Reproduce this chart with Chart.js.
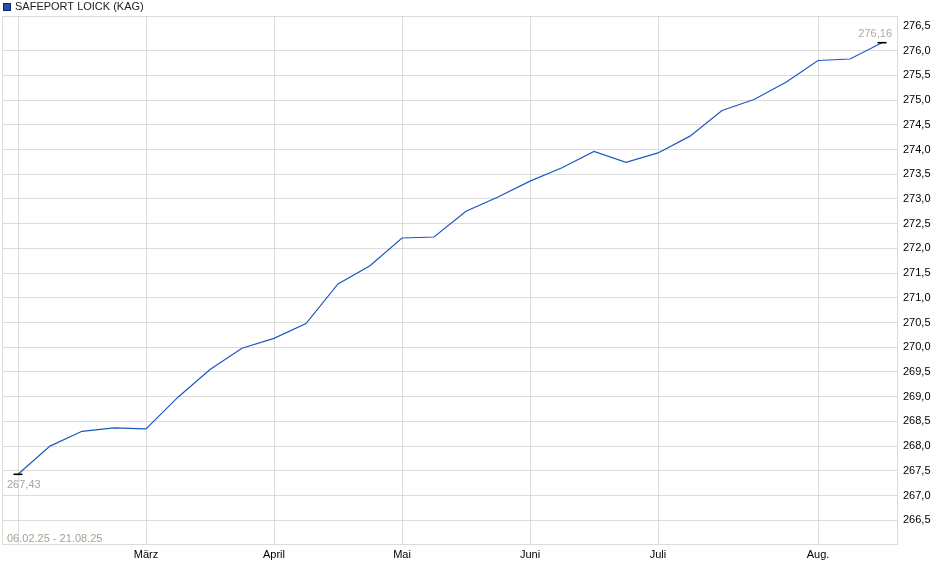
<!DOCTYPE html>
<html>
<head>
<meta charset="utf-8">
<title>SAFEPORT LOICK (KAG)</title>
<script src="https://cdn.jsdelivr.net/npm/chart.js@4/dist/chart.umd.min.js"></script>
<style>
    body { margin: 0; background: #fff; }
    canvas { display: block; }
</style>
</head>
<body>
<canvas id="LineChart" width="940" height="579"></canvas>
<script>
// data (one point per category)
const seriesName = 'SAFEPORT LOICK (KAG)';
const dateRange = '06.02.25 - 21.08.25';
const monthLabels = ['', '', '', '', 'März', '', '', '', 'April', '', '', '', 'Mai', '', '', '', 'Juni', '', '', '', 'Juli', '', '', '', '', 'Aug.', '', ''];
const gridIdx = [0, 4, 8, 12, 16, 20, 25];
const prices = [267.43, 268.00, 268.30, 268.37, 268.35, 268.99, 269.55, 269.98, 270.18, 270.48,
    271.28, 271.65, 272.21, 272.23, 272.75, 273.04, 273.36, 273.63, 273.96, 273.74,
    273.93, 274.27, 274.79, 275.01, 275.36, 275.80, 275.83, 276.16];
const yTicks = [266.5, 267.0, 267.5, 268.0, 268.5, 269.0, 269.5, 270.0, 270.5, 271.0,
    271.5, 272.0, 272.5, 273.0, 273.5, 274.0, 274.5, 275.0, 275.5, 276.0, 276.5];
const yMin = 266.0;
const yMax = 276.7;

const font = 'Liberation Sans, Arial, sans-serif';
const gridColor = '#dcdcdc';
const lineColor = '#1c58c0';

const fmt = (v, d) => v.toFixed(d).replace('.', ',');
const last = prices.length - 1;

const overlay = {
    id: 'overlay',
    beforeDatasetsDraw(chart) {
        const a = chart.chartArea;
        const c = chart.ctx;
        c.save();
        c.strokeStyle = gridColor;
        c.lineWidth = 1;
        c.strokeRect(Math.round(a.left) + 0.5, Math.round(a.top) + 0.5,
            Math.round(a.right - a.left) - 1, Math.round(a.bottom - a.top) - 1);
        c.restore();
    },
    afterDraw(chart) {
        const c = chart.ctx;
        const a = chart.chartArea;
        const x = chart.scales.x;
        const y = chart.scales.y;
        c.save();
        // legend
        c.fillStyle = '#1f4fb8';
        c.fillRect(3, 3, 8, 8);
        c.strokeStyle = '#0d2a66';
        c.strokeRect(3.5, 3.5, 7, 7);
        c.fillStyle = '#222';
        c.font = '11px ' + font;
        c.textBaseline = 'middle';
        c.textAlign = 'left';
        c.fillText(seriesName, 15, 7);

        // first / last values
        c.fillStyle = '#a3a3a8';
        c.fillText(fmt(prices[0], 2), x.getPixelForValue(0) - 11, y.getPixelForValue(prices[0]) + 11);
        c.fillStyle = '#b0a89c';
        c.textAlign = 'right';
        c.fillText(fmt(prices[last], 2), x.getPixelForValue(last) + 10, y.getPixelForValue(prices[last]) - 9);

        // date range
        c.fillStyle = '#a89e90';
        c.textAlign = 'left';
        c.fillText(dateRange, a.left + 5, a.bottom - 6);
        c.restore();
    }
};

new Chart(document.getElementById('LineChart'), {
    type: 'line',
    data: {
        labels: monthLabels,
        datasets: [{
            label: seriesName,
            data: prices,
            borderColor: lineColor,
            borderWidth: 1.2,
            tension: 0,
            fill: false,
            pointStyle: 'line',
            pointRadius: (ctx) => (ctx.dataIndex === 0 || ctx.dataIndex === last) ? 4.5 : 0,
            pointBorderColor: '#000',
            pointBorderWidth: 1.6,
            pointHoverRadius: 0
        }]
    },
    options: {
        responsive: false,
        animation: false,
        devicePixelRatio: 1,
        layout: { autoPadding: false, padding: { top: 16, left: 2, right: 0, bottom: 0 } },
        plugins: {
            legend: { display: false },
            tooltip: { enabled: false }
        },
        scales: {
            x: {
                offset: true,
                grid: {
                    offset: false,
                    drawTicks: false,
                    color: (ctx) => gridIdx.includes(ctx.index) ? gridColor : 'rgba(0,0,0,0)'
                },
                border: { display: false },
                ticks: {
                    autoSkip: false,
                    maxRotation: 0,
                    padding: 3,
                    color: '#000',
                    font: { family: font, size: 11 }
                },
                afterFit: (scale) => { scale.height = 34; }
            },
            y: {
                position: 'right',
                min: yMin,
                max: yMax,
                afterBuildTicks: (scale) => {
                    scale.ticks = yTicks.map(v => ({ value: v }));
                },
                grid: {
                    drawTicks: false,
                    color: (ctx) => (ctx.tick && ctx.tick.value === 276.5) ? 'rgba(0,0,0,0)' : gridColor
                },
                border: { display: false },
                ticks: {
                    padding: 5,
                    color: '#000',
                    font: { family: font, size: 11 },
                    callback: (v) => fmt(v, 1)
                },
                afterFit: (scale) => { scale.width = 42; }
            }
        }
    },
    plugins: [overlay]
});
</script>
</body>
</html>
